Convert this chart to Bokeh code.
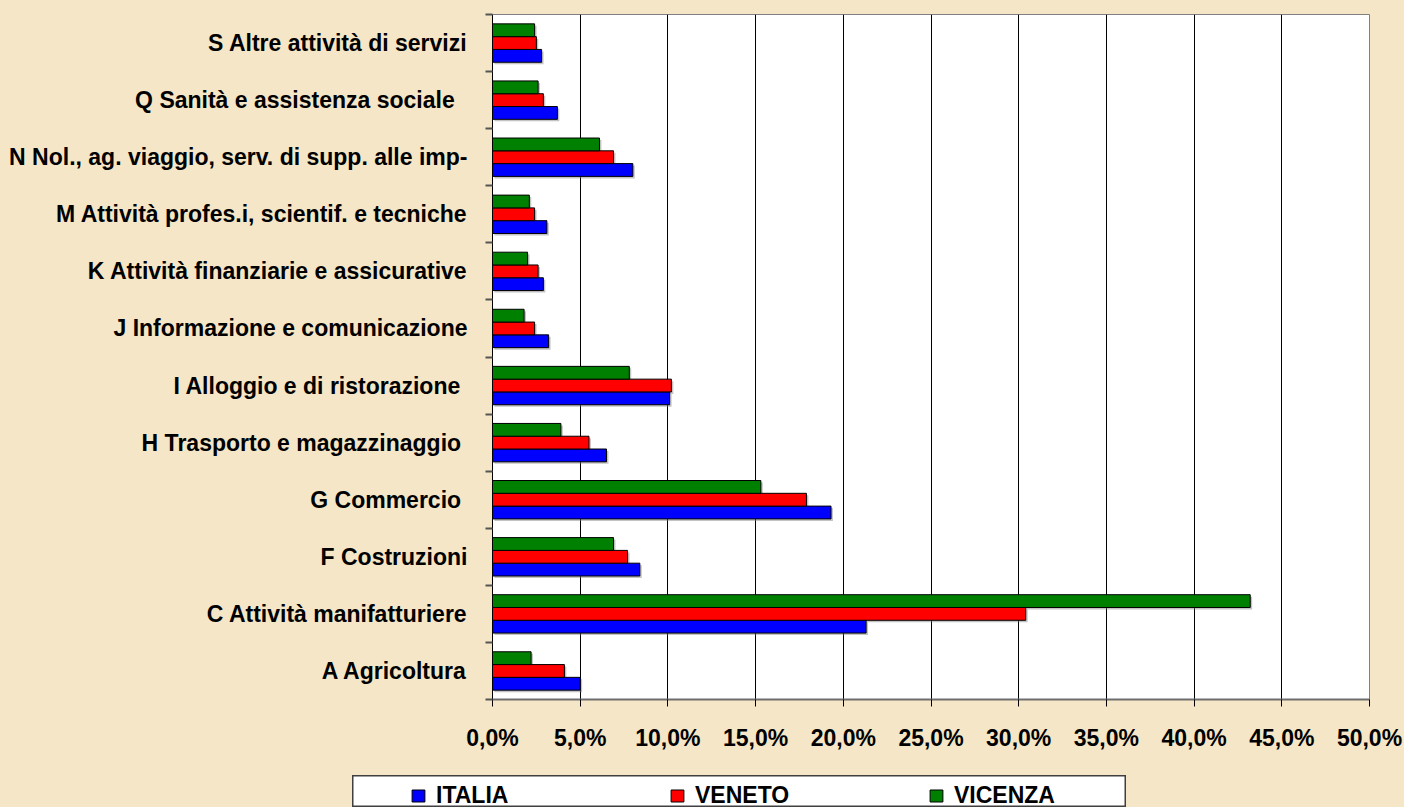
import re
from bokeh.plotting import figure
from bokeh.models import FixedTicker, Range1d, Legend, LegendItem, ColumnDataSource, Spacer
from bokeh.layouts import column, row
from bokeh.transform import dodge
from bokeh.embed import file_html
from bokeh.resources import INLINE

# ---------------- data ----------------
categories = [
    "A Agricoltura",
    "C Attività manifatturiere",
    "F Costruzioni",
    "G Commercio ",
    "H Trasporto e magazzinaggio ",
    "I Alloggio e di ristorazione ",
    "J Informazione e comunicazione",
    "K Attività finanziarie e assicurative",
    "M Attività profes.i, scientif. e tecniche",
    "N Nol., ag. viaggio, serv. di supp. alle imp-",
    "Q Sanità e assistenza sociale  ",
    "S Altre attività di servizi",
]
italia = [5.0, 21.3, 8.4, 19.3, 6.5, 10.1, 3.2, 2.9, 3.1, 8.0, 3.7, 2.8]
veneto = [4.1, 30.4, 7.7, 17.9, 5.5, 10.2, 2.4, 2.6, 2.4, 6.9, 2.9, 2.5]
vicenza = [2.2, 43.2, 6.9, 15.3, 3.9, 7.8, 1.8, 2.0, 2.1, 6.1, 2.6, 2.4]
series_names = ["ITALIA", "VENETO", "VICENZA"]
series_colors = ["#0000FF", "#FF0000", "#008000"]
x_ticks = [0, 5, 10, 15, 20, 25, 30, 35, 40, 45, 50]
x_tick_labels = ["0,0%", "5,0%", "10,0%", "15,0%", "20,0%", "25,0%", "30,0%",
                 "35,0%", "40,0%", "45,0%", "50,0%"]

FONT = "Liberation Sans"
BG = "#F4E6C6"

n = len(categories)
ypos = [i + 0.5 for i in range(n)]
src = ColumnDataSource(dict(y=ypos, ITALIA=italia, VENETO=veneto, VICENZA=vicenza))

p = figure(width=1404, height=775, output_backend="svg", toolbar_location=None,
           x_range=Range1d(0, 50), y_range=Range1d(0, n),
           min_border_left=492, min_border_right=35, min_border_top=14,
           min_border_bottom=76)
p.background_fill_color = "white"
p.border_fill_color = BG
p.outline_line_color = "#808080"
p.outline_line_width = 1

bar_h = 0.224
offsets = [-bar_h, 0.0, bar_h]
for name, col, off in zip(series_names, series_colors, offsets):
    # soft shadow
    p.hbar(y=dodge("y", off - 0.035, range=p.y_range), left=0.11,
           right=dodge(name, 0.11, range=p.x_range), height=bar_h, source=src,
           fill_color="#7a7a7a", fill_alpha=0.45, line_color=None)
for name, col, off in zip(series_names, series_colors, offsets):
    p.hbar(y=dodge("y", off, range=p.y_range), left=0, right=name, height=bar_h,
           source=src, fill_color=col, line_color="black", line_width=1)

# x axis
p.xaxis.ticker = FixedTicker(ticks=x_ticks)
p.xaxis.major_label_overrides = {t: l for t, l in zip(x_ticks, x_tick_labels)}
p.xaxis.major_label_text_font = FONT
p.xaxis.major_label_text_font_style = "bold"
p.xaxis.major_label_text_font_size = "23px"
p.xaxis.major_label_text_color = "black"
p.xaxis.major_label_standoff = 18
p.xaxis.major_tick_out = 7
p.xaxis.major_tick_in = 0
p.xaxis.major_tick_line_color = "black"
p.xaxis.minor_tick_line_color = None
p.xaxis.axis_line_color = "#6e6e6e"
p.xaxis.axis_line_width = 2

# y axis: labels at category centres, ticks at category boundaries
p.yaxis.ticker = FixedTicker(ticks=ypos, minor_ticks=list(range(n + 1)))
p.yaxis.major_label_overrides = {y: c for y, c in zip(ypos, categories)}
p.yaxis.major_label_text_font = FONT
p.yaxis.major_label_text_font_style = "bold"
p.yaxis.major_label_text_font_size = "23px"
p.yaxis.major_label_text_color = "black"
p.yaxis.major_tick_line_color = None
p.yaxis.major_tick_out = 0
p.yaxis.major_tick_in = 0
p.yaxis.major_label_standoff = 18
p.yaxis.minor_tick_out = 7
p.yaxis.minor_tick_in = 0
p.yaxis.minor_tick_line_color = "#555555"
p.yaxis.minor_tick_line_width = 2
p.yaxis.axis_line_color = "black"

p.xgrid.ticker = FixedTicker(ticks=x_ticks)
p.xgrid.grid_line_color = "black"
p.xgrid.grid_line_width = 1
p.ygrid.grid_line_color = None

# ---------------- legend box ----------------
# The legend proxies reuse the real data but lie outside this panel's view.
lf = figure(width=774, height=32, output_backend="svg", toolbar_location=None,
            x_range=Range1d(0, 50), y_range=Range1d(100, 101),
            x_axis_type=None, y_axis_type=None,
            min_border=0, min_border_left=0, min_border_right=0,
            min_border_top=0, min_border_bottom=0)
lf.background_fill_color = "white"
lf.border_fill_color = "white"
lf.outline_line_color = "#404040"
lf.outline_line_width = 2
lf.xgrid.grid_line_color = None
lf.ygrid.grid_line_color = None
items = []
for name, col in zip(series_names, series_colors):
    r = lf.hbar(y="y", right=name, left=0, height=bar_h, source=src,
                fill_color=col, line_color="black", line_width=1)
    items.append(LegendItem(label=name, renderers=[r]))
leg = Legend(items=items, orientation="horizontal", location=(58, -2),
             padding=8, spacing=123, label_width=110, label_height=20,
             glyph_width=16, glyph_height=15, label_standoff=10, margin=0,
             label_text_font=FONT, label_text_font_style="bold",
             label_text_font_size="23px", label_text_color="black",
             border_line_color=None, background_fill_alpha=0)
lf.add_layout(leg, "center")

layout = column(p, row(Spacer(width=352, height=32), lf))

html = file_html(layout, INLINE)
style = "<style>html,body{background-color:%s;margin:0;padding:0;}</style>" % BG
html = html.replace("</head>", style + "</head>", 1)
html = re.sub(r"<body([^>]*)>", r'<body\1 style="background-color:%s;margin:0;">' % BG, html, count=1)
open("out.html", "w").write(html)
